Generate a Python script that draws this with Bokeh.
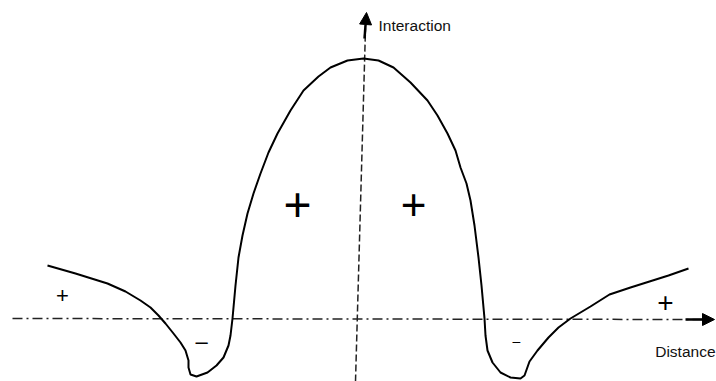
from bokeh.plotting import figure
from bokeh.models import Range1d, Arrow, NormalHead, ColumnDataSource
from bokeh.core.properties import value
from bokeh.embed import file_html
from bokeh.resources import INLINE

# Sketch of interaction vs distance (distance 0 at the vertical axis, interaction 0 at the horizontal axis)
distance = [-313, -285, -253, -235, -220, -210, -202, -195, -187, -180, -175, -172, -172, -170, -164,
            -153, -144, -137, -132, -130, -128, -125, -122, -118, -113, -107, -100, -92, -83, -70,
            -57, -42, -30, -13, 3, 18, 33, 50, 67, 77, 87, 95, 100, 106, 110, 114, 118, 121, 124,
            125, 127, 132, 140, 150, 160, 164, 169, 177, 188, 198, 210, 230, 249, 270, 289, 308, 328]
interaction = [53, 45, 35, 27, 18, 11, 3, -5, -15, -24, -32, -42, -49, -56, -58,
               -54, -47, -39, -27, -17, 0, 33, 61, 83, 105, 125, 145, 166, 185, 208,
               228, 242, 251, 258, 260, 258, 251, 236, 218, 203, 185, 168, 151, 135, 118, 93, 61, 33, 0,
               -17, -32, -44, -54, -59, -60, -57, -43, -32, -19, -9, 0, 12, 24, 31, 37, 43, 50]

sign_text = ["+", "\u2013", "+", "+", "\u2013", "+"]
sign_x = [-298, -159, -63, 53, 156, 305]
sign_y = [23, -23, 114, 114, -22, 16]
sign_size = ["22px", "22px", "48px", "44px", "14px", "28px"]

axis_x_label = "Distance"
axis_y_label = "Interaction"

p = figure(width=716, height=381, x_range=Range1d(-360, 356), y_range=Range1d(-63, 318),
           output_backend="svg", toolbar_location=None, min_border=0)
p.axis.visible = False
p.grid.visible = False
p.outline_line_color = None
p.background_fill_color = "white"
p.border_fill_color = "white"

# axes
p.line([-348, 345], [0, -1], line_color="#222222", line_width=1.5, line_dash="10 4 2 4")
p.line([-5, 5], [-63, 290], line_color="#222222", line_width=1.5, line_dash="7 3")
p.add_layout(Arrow(end=NormalHead(size=12, fill_color="black", line_color="black"),
                   x_start=325, y_start=-1, x_end=354, y_end=-1, line_color="black", line_width=2.5))
p.add_layout(Arrow(end=NormalHead(size=12, fill_color="black", line_color="black"),
                   x_start=4, y_start=280, x_end=6, y_end=306, line_color="black", line_width=2.5))

# curve
p.line(distance, interaction, line_color="black", line_width=2)

# signs
src = ColumnDataSource(dict(x=sign_x, y=sign_y, t=sign_text, s=sign_size))
p.text("x", "y", text="t", source=src, text_font_size="s", text_align="center",
       text_baseline="middle", text_color="black", text_font=value("Liberation Sans"))

# axis labels
p.text([18], [293], text=[axis_y_label], text_font_size="15.5px", text_align="left",
       text_baseline="alphabetic", text_color="#111111", text_font=value("Liberation Sans"))
p.text([355], [-33], text=[axis_x_label], text_font_size="15.5px", text_align="right",
       text_baseline="alphabetic", text_color="#111111", text_font=value("Liberation Sans"))

open("out.html", "w").write(file_html(p, INLINE))
